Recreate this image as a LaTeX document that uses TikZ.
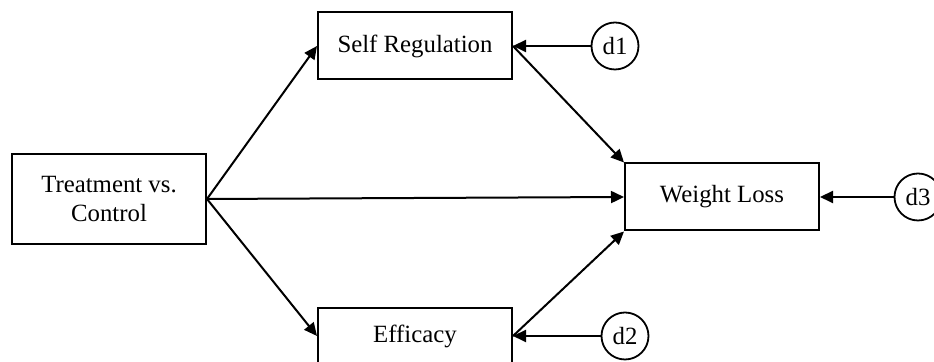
\documentclass[tikz,border=0pt]{standalone}
\usepackage{fontspec}
\setmainfont{Liberation Serif}
\usetikzlibrary{arrows.meta}

\begin{document}
\begin{tikzpicture}[
x = 0.5pt, y = -0.5pt,
every node/.style = {font=\fontsize{12.4}{14.5}\selectfont},
box/.style = {draw, line width=1pt, minimum width=97pt, minimum height=33.5pt, align=center, inner sep=2pt},
dist/.style = {draw, circle, line width=0.9pt, minimum size=23.5pt, inner sep=0pt},
path/.style = {line width=1pt, -{Triangle[length=6.5pt,width=6pt]}}
]
\useasboundingbox (0,0) rectangle (934,362);
\node[box, minimum height=45pt] (treat) at (109,199) {Treatment vs.\\ Control};
\node[box] (selfreg) at (415,46) {Self Regulation};
\node[box, minimum height=28pt] (effic) at (415,336) {Efficacy};
\node[box] (wloss) at (722,197) {Weight Loss};
\node[dist] (d1) at (615,46) {d1};
\node[dist] (d2) at (625,336) {d2};
\node[dist] (d3) at (918,197) {d3};

\draw[path] (treat.east) -- (selfreg.west);
\draw[path] (treat.east) -- (effic.west);
\draw[path] (treat.east) -- (wloss.west);
\draw[path] (selfreg.east) -- (wloss.north west);
\draw[path] (effic.east) -- (wloss.south west);
\draw[path] (d1) -- (selfreg.east);
\draw[path] (d2) -- (effic.east);
\draw[path] (d3) -- (wloss.east);
\end{tikzpicture}
\end{document}
